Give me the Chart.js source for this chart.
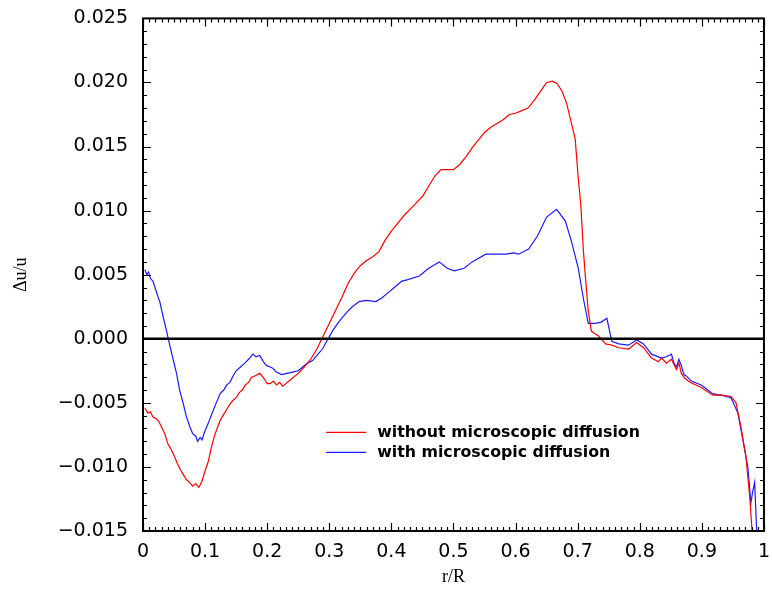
<!DOCTYPE html>
<html>
<head>
<meta charset="utf-8">
<script src="https://cdn.jsdelivr.net/npm/chart.js@4.4.1/dist/chart.umd.min.js"></script>
<style>
  html, body { margin: 0; padding: 0; background: #fff; }
  #wrap { width: 772px; height: 590px; position: relative; }
</style>
</head>
<body>
<div id="wrap"><canvas id="chart"></canvas></div>
<script>
// r/R grid and Δu/u values
const rRed = [0.003,0.008,0.012,0.016,0.02,0.025,0.03,0.035,0.04,0.045,0.05,0.055,0.06,0.065,0.07,0.075,0.08,0.085,0.09,0.095,0.1,0.105,0.11,0.115,0.12,0.125,0.13,0.135,0.14,0.145,0.15,0.155,0.16,0.165,0.17,0.175,0.18,0.188,0.195,0.2,0.205,0.21,0.215,0.22,0.225,0.23,0.24,0.25,0.26,0.27,0.28,0.29,0.30,0.31,0.32,0.33,0.34,0.35,0.36,0.37,0.38,0.39,0.40,0.41,0.42,0.43,0.44,0.45,0.46,0.47,0.48,0.49,0.50,0.51,0.52,0.53,0.54,0.55,0.56,0.57,0.58,0.59,0.60,0.61,0.62,0.63,0.64,0.65,0.66,0.667,0.675,0.682,0.69,0.696,0.701,0.705,0.709,0.713,0.717,0.722,0.728,0.734,0.745,0.755,0.766,0.782,0.795,0.806,0.819,0.83,0.835,0.843,0.851,0.859,0.863,0.867,0.873,0.881,0.899,0.918,0.931,0.947,0.955,0.963,0.971,0.977,0.982];
const duRed = [-0.0054,-0.0058,-0.0057,-0.0061,-0.0062,-0.0064,-0.0069,-0.0074,-0.0082,-0.0086,-0.0091,-0.0097,-0.0102,-0.0106,-0.0110,-0.0112,-0.0115,-0.0113,-0.0116,-0.0111,-0.0103,-0.0096,-0.0085,-0.0076,-0.0069,-0.0063,-0.0059,-0.0055,-0.0051,-0.0048,-0.0046,-0.0042,-0.0040,-0.0036,-0.0034,-0.0030,-0.0029,-0.0027,-0.0031,-0.0035,-0.0035,-0.0033,-0.0036,-0.0034,-0.0037,-0.0035,-0.0031,-0.0027,-0.0022,-0.0016,-0.0008,0.0002,0.0012,0.0022,0.0032,0.0043,0.0051,0.0057,0.0061,0.0064,0.0068,0.0077,0.0084,0.0090,0.0096,0.0101,0.0106,0.0111,0.0119,0.0127,0.0132,0.0132,0.0132,0.0136,0.0142,0.0149,0.0155,0.0161,0.0165,0.0168,0.0171,0.0175,0.0176,0.0178,0.0180,0.0186,0.0193,0.0200,0.0201,0.0199,0.0193,0.0184,0.0168,0.0156,0.0125,0.0105,0.0070,0.0045,0.0022,0.0006,0.0004,0.0002,-0.0004,-0.0005,-0.0007,-0.0008,-0.0003,-0.0007,-0.0015,-0.0018,-0.0015,-0.0019,-0.0016,-0.0024,-0.0019,-0.0027,-0.0031,-0.0034,-0.0038,-0.0044,-0.0044,-0.0045,-0.0050,-0.0069,-0.0092,-0.0123,-0.0158];

const rBlue = [0.003,0.006,0.009,0.012,0.016,0.02,0.024,0.027,0.032,0.038,0.043,0.048,0.054,0.059,0.065,0.07,0.075,0.08,0.085,0.088,0.092,0.095,0.099,0.105,0.113,0.118,0.124,0.13,0.135,0.14,0.145,0.15,0.157,0.164,0.17,0.177,0.182,0.188,0.194,0.199,0.205,0.209,0.215,0.223,0.232,0.241,0.25,0.257,0.265,0.273,0.28,0.289,0.297,0.305,0.315,0.327,0.337,0.348,0.36,0.375,0.385,0.395,0.407,0.417,0.425,0.445,0.46,0.477,0.49,0.501,0.517,0.53,0.552,0.584,0.597,0.605,0.621,0.635,0.65,0.666,0.68,0.69,0.701,0.709,0.717,0.728,0.738,0.747,0.755,0.766,0.782,0.795,0.806,0.819,0.835,0.843,0.851,0.855,0.859,0.863,0.867,0.871,0.875,0.883,0.899,0.918,0.931,0.947,0.958,0.966,0.974,0.979,0.982,0.985,0.989];
const duBlue = [0.0054,0.0050,0.0052,0.0047,0.0045,0.0039,0.0033,0.0029,0.0018,0.0006,-0.0005,-0.0015,-0.0027,-0.0040,-0.0051,-0.0061,-0.0068,-0.0074,-0.0076,-0.0080,-0.0077,-0.0079,-0.0073,-0.0066,-0.0056,-0.0050,-0.0043,-0.0040,-0.0036,-0.0034,-0.0029,-0.0025,-0.0022,-0.0019,-0.0016,-0.0012,-0.0014,-0.0013,-0.0018,-0.0021,-0.0022,-0.0023,-0.0026,-0.0028,-0.0027,-0.0026,-0.0025,-0.0022,-0.0019,-0.0017,-0.0013,-0.0008,-0.0001,0.0006,0.0013,0.0020,0.0025,0.0029,0.0030,0.0029,0.0032,0.0036,0.0041,0.0045,0.0046,0.0049,0.0055,0.0060,0.0055,0.0053,0.0055,0.0060,0.0066,0.0066,0.0067,0.0066,0.0070,0.0080,0.0095,0.0101,0.0092,0.0076,0.0055,0.0032,0.0012,0.0012,0.0013,0.0016,-0.0002,-0.0004,-0.0005,-0.0001,-0.0004,-0.0012,-0.0015,-0.0014,-0.0012,-0.0019,-0.0022,-0.0016,-0.0021,-0.0028,-0.0029,-0.0033,-0.0036,-0.0043,-0.0044,-0.0046,-0.0058,-0.0079,-0.0100,-0.0128,-0.0119,-0.0112,-0.0158];

const zeroR = [0, 1];
const zeroDu = [0, 0];

const labelRed = 'without microscopic diffusion';
const labelBlue = 'with microscopic diffusion';

const tickFont = '"DejaVu Sans", Verdana, sans-serif';
const titleFont = '"Liberation Serif", "Times New Roman", serif';

const toPts = (xs, ys) => xs.map((x, i) => ({ x: x, y: ys[i] }));

// frame with inward major/minor ticks on all four sides, plus the inner legend
const framePlugin = {
  id: 'frame',
  afterDatasetsDraw(chart) {
    const { ctx, chartArea: a, scales: { x, y } } = chart;
    ctx.save();
    ctx.strokeStyle = '#000';
    ctx.lineWidth = 1.2;
    ctx.beginPath();
    for (let i = -15; i <= 25; i++) {
      const py = Math.round(y.getPixelForValue(i / 1000)) + 0.5;
      const len = i % 5 === 0 ? 8 : 4;
      ctx.moveTo(a.left, py); ctx.lineTo(a.left + len, py);
      ctx.moveTo(a.right, py); ctx.lineTo(a.right - len, py);
    }
    for (let i = 0; i <= 100; i++) {
      const px = Math.round(x.getPixelForValue(i / 100)) + 0.5;
      const len = i % 10 === 0 ? 8 : 4;
      ctx.moveTo(px, a.bottom); ctx.lineTo(px, a.bottom - len);
      ctx.moveTo(px, a.top); ctx.lineTo(px, a.top + len);
    }
    ctx.stroke();
    ctx.lineWidth = 2;
    ctx.strokeRect(a.left, a.top, a.right - a.left, a.bottom - a.top);

    const lx = x.getPixelForValue(0.295);
    const ly = y.getPixelForValue(-0.0073);
    const items = [[labelRed, '#ff0000'], [labelBlue, '#1a1aff']];
    ctx.font = 'bold 15.8px ' + tickFont;
    ctx.textBaseline = 'middle';
    items.forEach((it, k) => {
      const yy = ly + k * 20;
      ctx.strokeStyle = it[1];
      ctx.lineWidth = 1.2;
      ctx.beginPath(); ctx.moveTo(lx, yy); ctx.lineTo(lx + 40, yy); ctx.stroke();
      ctx.fillStyle = '#000';
      ctx.fillText(it[0], lx + 51, yy + 1);
    });
    ctx.restore();
  }
};

new Chart(document.getElementById('chart'), {
  type: 'line',
  data: {
    datasets: [
      { label: 'zero', data: toPts(zeroR, zeroDu), borderColor: '#000', borderWidth: 2.5, pointRadius: 0 },
      { label: labelRed, data: toPts(rRed, duRed), borderColor: '#ff0000', borderWidth: 1.2, pointRadius: 0, tension: 0 },
      { label: labelBlue, data: toPts(rBlue, duBlue), borderColor: '#1a1aff', borderWidth: 1.2, pointRadius: 0, tension: 0 }
    ]
  },
  options: {
    responsive: true,
    maintainAspectRatio: false,
    animation: false,
    layout: { padding: { top: 5, right: 0, left: 0, bottom: 0 } },
    plugins: { legend: { display: false }, tooltip: { enabled: false } },
    scales: {
      x: {
        type: 'linear',
        min: 0, max: 1,
        afterFit: s => { s.height = 59; },
        grid: { display: false },
        border: { display: false },
        ticks: {
          stepSize: 0.1,
          padding: 2,
          color: '#000',
          font: { family: tickFont, size: 19 },
          callback: v => (v === 0 || v === 1) ? String(v) : v.toFixed(1)
        },
        title: {
          display: true, text: 'r/R', color: '#000',
          font: { family: titleFont, size: 18 },
          padding: { top: 0, bottom: 2 }
        }
      },
      y: {
        type: 'linear',
        min: -0.015, max: 0.025,
        afterFit: s => { s.width = 143; },
        grid: { display: false },
        border: { display: false },
        ticks: {
          stepSize: 0.005,
          padding: 7,
          color: '#000',
          font: { family: tickFont, size: 19 },
          callback: v => v.toFixed(3).replace('-', '\u2212')
        },
        title: {
          display: true, text: '\u0394u/u', color: '#000',
          font: { family: titleFont, size: 18 },
          padding: { top: 10, bottom: 0 }
        }
      }
    }
  },
  plugins: [framePlugin]
});
</script>
</body>
</html>
